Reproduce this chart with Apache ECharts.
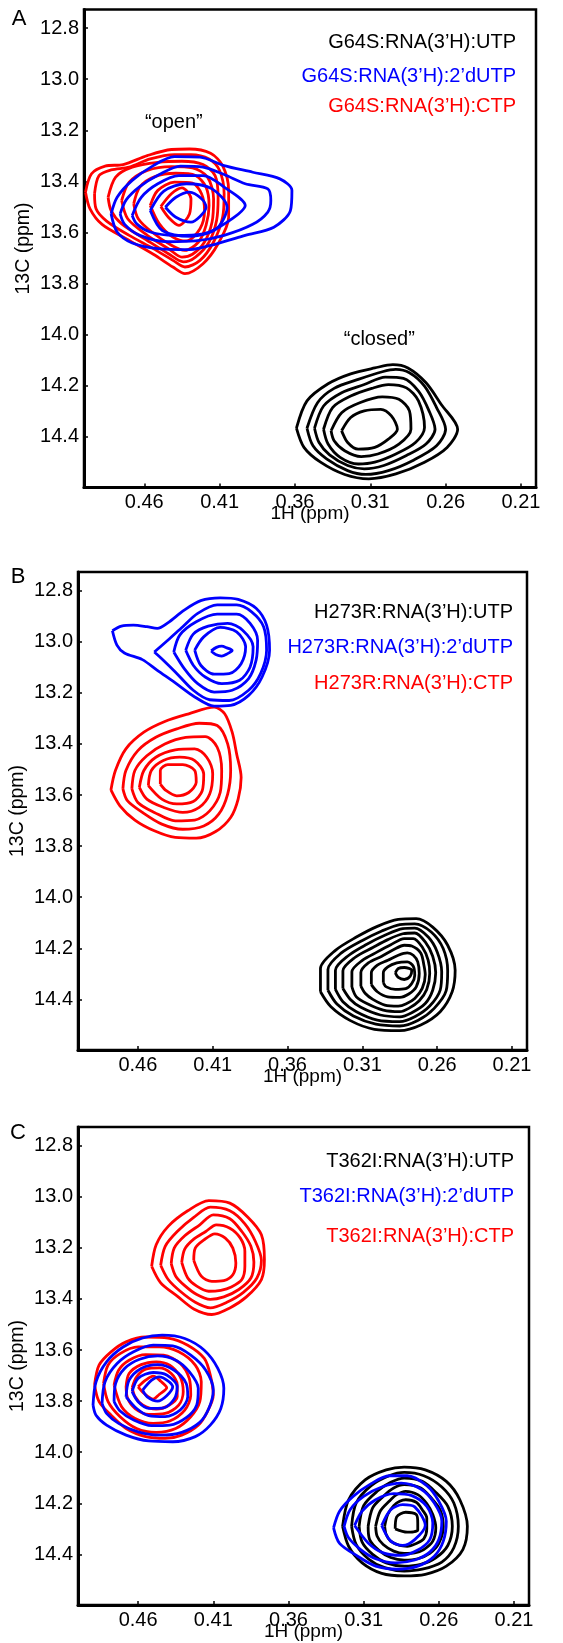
<!DOCTYPE html>
<html><head><meta charset="utf-8">
<script src="https://cdn.jsdelivr.net/npm/echarts@6.0.0/dist/echarts.min.js"></script>
<style>html,body{margin:0;padding:0;background:#fff}#c{width:563px;height:1643px}</style>
</head><body><div id="c"></div>
<script>
// ---------- axis values ----------
const xTicks = [0.46, 0.41, 0.36, 0.31, 0.26, 0.21];
const yTicks = [12.8, 13.0, 13.2, 13.4, 13.6, 13.8, 14.0, 14.2, 14.4];
const xRange = [0.2, 0.5];
const yRange = [12.727, 14.598];
const xName = '1H (ppm)';
const yName = '13C (ppm)';
const panelLetters = ['A', 'B', 'C'];

const legendA = ['G64S:RNA(3’H):UTP', 'G64S:RNA(3’H):2’dUTP', 'G64S:RNA(3’H):CTP'];
const legendB = ['H273R:RNA(3’H):UTP', 'H273R:RNA(3’H):2’dUTP', 'H273R:RNA(3’H):CTP'];
const legendC = ['T362I:RNA(3’H):UTP', 'T362I:RNA(3’H):2’dUTP', 'T362I:RNA(3’H):CTP'];

const notesA = [{text: '“open”', value: [0.4404, 13.1685]}, {text: '“closed”', value: [0.3040, 14.0195]}];

// ---------- contour lines (1H ppm, 13C ppm) ----------
// Panel A
const A_UTP = [
 [[0.359,14.366],[0.352,14.259],[0.338,14.192],[0.323,14.153],[0.307,14.130],[0.295,14.117],[0.285,14.130],[0.273,14.188],[0.263,14.272],[0.252,14.370],[0.259,14.441],[0.274,14.499],[0.293,14.545],[0.311,14.564],[0.327,14.547],[0.343,14.499],[0.354,14.441]],
 [[0.352,14.366],[0.345,14.266],[0.334,14.210],[0.318,14.175],[0.302,14.145],[0.293,14.136],[0.284,14.149],[0.274,14.201],[0.266,14.285],[0.260,14.370],[0.266,14.435],[0.281,14.490],[0.298,14.532],[0.313,14.547],[0.325,14.532],[0.339,14.486],[0.348,14.435]],
 [[0.347,14.366],[0.341,14.279],[0.329,14.227],[0.314,14.195],[0.300,14.166],[0.288,14.171],[0.278,14.221],[0.271,14.298],[0.267,14.370],[0.273,14.428],[0.286,14.473],[0.301,14.512],[0.314,14.525],[0.325,14.512],[0.337,14.470],[0.344,14.422]],
 [[0.341,14.370],[0.335,14.285],[0.323,14.240],[0.309,14.210],[0.298,14.195],[0.286,14.208],[0.278,14.259],[0.274,14.363],[0.280,14.422],[0.293,14.467],[0.307,14.499],[0.318,14.506],[0.330,14.480],[0.338,14.428]],
 [[0.336,14.376],[0.329,14.305],[0.317,14.266],[0.302,14.243],[0.291,14.253],[0.284,14.298],[0.283,14.370],[0.291,14.428],[0.305,14.467],[0.316,14.477],[0.327,14.454],[0.334,14.415]],
 [[0.329,14.376],[0.323,14.324],[0.314,14.298],[0.303,14.292],[0.296,14.318],[0.292,14.370],[0.298,14.409],[0.307,14.441],[0.318,14.448],[0.325,14.422]]
];
const A_dUTP = [
 [[0.482,13.527],[0.478,13.462],[0.468,13.396],[0.454,13.338],[0.440,13.303],[0.423,13.305],[0.407,13.338],[0.388,13.364],[0.370,13.390],[0.362,13.435],[0.363,13.514],[0.374,13.579],[0.393,13.611],[0.412,13.644],[0.430,13.667],[0.451,13.663],[0.468,13.641],[0.478,13.598]],
 [[0.476,13.527],[0.472,13.472],[0.463,13.420],[0.450,13.373],[0.436,13.340],[0.421,13.344],[0.407,13.373],[0.393,13.409],[0.378,13.429],[0.376,13.475],[0.378,13.520],[0.388,13.568],[0.407,13.611],[0.426,13.633],[0.444,13.636],[0.463,13.611],[0.473,13.568]],
 [[0.468,13.533],[0.462,13.462],[0.451,13.409],[0.437,13.377],[0.421,13.377],[0.407,13.422],[0.393,13.494],[0.405,13.559],[0.421,13.605],[0.440,13.611],[0.456,13.598],[0.465,13.566]],
 [[0.456,13.514],[0.447,13.438],[0.432,13.409],[0.415,13.429],[0.405,13.501],[0.412,13.585],[0.429,13.615],[0.448,13.592]],
 [[0.446,13.501],[0.439,13.462],[0.430,13.442],[0.422,13.468],[0.419,13.501],[0.423,13.537],[0.429,13.559],[0.439,13.540]]
];
const A_CTP = [
 [[0.499,13.442],[0.495,13.370],[0.486,13.340],[0.474,13.334],[0.458,13.299],[0.442,13.275],[0.430,13.273],[0.416,13.290],[0.408,13.338],[0.404,13.435],[0.404,13.540],[0.411,13.644],[0.421,13.722],[0.433,13.761],[0.441,13.735],[0.454,13.685],[0.472,13.624],[0.488,13.568],[0.496,13.507]],
 [[0.493,13.448],[0.490,13.377],[0.482,13.355],[0.470,13.344],[0.456,13.312],[0.440,13.295],[0.429,13.295],[0.417,13.312],[0.410,13.357],[0.407,13.448],[0.408,13.540],[0.414,13.637],[0.423,13.709],[0.433,13.735],[0.441,13.709],[0.454,13.663],[0.470,13.611],[0.485,13.555],[0.492,13.507]],
 [[0.484,13.462],[0.479,13.383],[0.468,13.344],[0.451,13.325],[0.435,13.321],[0.421,13.334],[0.413,13.377],[0.411,13.462],[0.412,13.553],[0.417,13.637],[0.426,13.696],[0.434,13.715],[0.444,13.683],[0.458,13.631],[0.475,13.566],[0.482,13.514]],
 [[0.475,13.475],[0.470,13.403],[0.458,13.357],[0.442,13.342],[0.428,13.347],[0.418,13.383],[0.414,13.468],[0.415,13.559],[0.420,13.637],[0.428,13.685],[0.435,13.696],[0.444,13.663],[0.458,13.611],[0.471,13.546]],
 [[0.467,13.488],[0.463,13.422],[0.453,13.381],[0.439,13.368],[0.426,13.377],[0.419,13.422],[0.417,13.494],[0.419,13.572],[0.424,13.637],[0.433,13.670],[0.442,13.650],[0.455,13.598],[0.464,13.546]],
 [[0.456,13.494],[0.451,13.435],[0.440,13.403],[0.428,13.407],[0.422,13.448],[0.420,13.514],[0.423,13.585],[0.432,13.633],[0.441,13.618],[0.450,13.566]],
 [[0.449,13.498],[0.442,13.448],[0.435,13.425],[0.429,13.468],[0.430,13.527],[0.437,13.572],[0.444,13.540]]
];

// Panel B
const B_UTP = [
 [[0.338,14.370],[0.338,14.279],[0.328,14.208],[0.314,14.156],[0.300,14.114],[0.286,14.087],[0.274,14.084],[0.263,14.117],[0.253,14.188],[0.248,14.286],[0.250,14.370],[0.258,14.448],[0.271,14.500],[0.285,14.522],[0.302,14.517],[0.318,14.483],[0.331,14.429]],
 [[0.333,14.364],[0.333,14.283],[0.324,14.218],[0.310,14.169],[0.297,14.132],[0.285,14.107],[0.275,14.104],[0.264,14.136],[0.256,14.201],[0.253,14.288],[0.254,14.366],[0.262,14.435],[0.273,14.483],[0.285,14.504],[0.301,14.497],[0.316,14.465],[0.327,14.418]],
 [[0.328,14.361],[0.328,14.286],[0.319,14.227],[0.307,14.184],[0.295,14.149],[0.283,14.123],[0.275,14.121],[0.266,14.156],[0.260,14.214],[0.257,14.292],[0.258,14.364],[0.265,14.426],[0.275,14.468],[0.285,14.487],[0.300,14.481],[0.314,14.448],[0.323,14.409]],
 [[0.323,14.357],[0.323,14.288],[0.315,14.236],[0.303,14.197],[0.293,14.166],[0.283,14.143],[0.275,14.140],[0.268,14.175],[0.263,14.231],[0.261,14.296],[0.263,14.364],[0.268,14.416],[0.277,14.452],[0.285,14.468],[0.298,14.461],[0.311,14.431],[0.318,14.400]],
 [[0.317,14.351],[0.317,14.292],[0.310,14.247],[0.300,14.214],[0.291,14.186],[0.282,14.162],[0.276,14.162],[0.270,14.195],[0.266,14.247],[0.265,14.299],[0.267,14.361],[0.272,14.405],[0.279,14.435],[0.285,14.448],[0.296,14.442],[0.307,14.416],[0.314,14.390]],
 [[0.311,14.348],[0.311,14.295],[0.306,14.257],[0.297,14.231],[0.289,14.205],[0.282,14.188],[0.277,14.191],[0.271,14.218],[0.269,14.262],[0.268,14.303],[0.270,14.357],[0.275,14.396],[0.281,14.418],[0.286,14.426],[0.295,14.422],[0.303,14.400],[0.308,14.377]],
 [[0.304,14.342],[0.304,14.296],[0.300,14.266],[0.293,14.247],[0.286,14.227],[0.280,14.218],[0.276,14.227],[0.273,14.253],[0.272,14.299],[0.274,14.351],[0.279,14.379],[0.285,14.392],[0.293,14.390],[0.300,14.370]],
 [[0.296,14.335],[0.296,14.296],[0.293,14.273],[0.287,14.257],[0.280,14.253],[0.276,14.270],[0.275,14.305],[0.277,14.338],[0.281,14.358],[0.288,14.361],[0.294,14.351]],
 [[0.288,14.296],[0.286,14.279],[0.282,14.275],[0.277,14.286],[0.278,14.309],[0.282,14.322],[0.286,14.314]]
];
const B_dUTP = [
 [[0.477,12.957],[0.474,13.013],[0.469,13.044],[0.457,13.070],[0.447,13.112],[0.435,13.161],[0.422,13.216],[0.409,13.252],[0.398,13.249],[0.386,13.210],[0.377,13.138],[0.372,13.033],[0.374,12.935],[0.381,12.869],[0.393,12.834],[0.405,12.828],[0.418,12.839],[0.429,12.876],[0.440,12.926],[0.447,12.948],[0.454,12.941],[0.463,12.935],[0.471,12.939]],
 [[0.449,13.040],[0.440,12.994],[0.430,12.941],[0.420,12.889],[0.407,12.856],[0.394,12.856],[0.384,12.883],[0.376,12.941],[0.374,13.033],[0.378,13.125],[0.386,13.190],[0.399,13.230],[0.412,13.227],[0.423,13.190],[0.435,13.118],[0.443,13.072]],
 [[0.436,13.040],[0.432,12.974],[0.421,12.922],[0.407,12.892],[0.394,12.892],[0.385,12.928],[0.380,12.994],[0.381,13.072],[0.386,13.144],[0.397,13.190],[0.409,13.197],[0.420,13.164],[0.429,13.105]],
 [[0.428,13.033],[0.423,12.970],[0.413,12.939],[0.400,12.928],[0.390,12.955],[0.383,13.020],[0.385,13.099],[0.392,13.151],[0.404,13.164],[0.415,13.138],[0.423,13.092]],
 [[0.422,13.033],[0.416,12.981],[0.405,12.944],[0.394,12.961],[0.388,13.020],[0.391,13.086],[0.399,13.125],[0.409,13.127],[0.418,13.092]],
 [[0.411,13.036],[0.4075,13.022],[0.404,13.017],[0.4005,13.024],[0.397,13.034],[0.4005,13.048],[0.404,13.056],[0.408,13.050]]
];
const B_CTP = [
 [[0.478,13.580],[0.475,13.504],[0.468,13.419],[0.456,13.354],[0.442,13.312],[0.426,13.282],[0.409,13.256],[0.402,13.282],[0.397,13.354],[0.394,13.439],[0.391,13.531],[0.393,13.616],[0.398,13.688],[0.408,13.743],[0.421,13.769],[0.435,13.766],[0.449,13.740],[0.462,13.698],[0.472,13.642]],
 [[0.470,13.576],[0.468,13.504],[0.460,13.426],[0.448,13.374],[0.434,13.341],[0.419,13.319],[0.407,13.328],[0.400,13.400],[0.398,13.504],[0.400,13.596],[0.406,13.675],[0.416,13.721],[0.430,13.734],[0.444,13.714],[0.457,13.668],[0.467,13.622]],
 [[0.464,13.576],[0.462,13.504],[0.454,13.446],[0.442,13.400],[0.428,13.374],[0.415,13.371],[0.407,13.413],[0.404,13.504],[0.405,13.590],[0.412,13.662],[0.422,13.698],[0.435,13.701],[0.449,13.668],[0.460,13.629]],
 [[0.459,13.570],[0.456,13.504],[0.448,13.452],[0.435,13.423],[0.422,13.419],[0.414,13.452],[0.410,13.518],[0.412,13.596],[0.419,13.648],[0.430,13.668],[0.443,13.648],[0.454,13.616]],
 [[0.453,13.563],[0.451,13.504],[0.443,13.465],[0.432,13.452],[0.422,13.465],[0.416,13.518],[0.417,13.583],[0.423,13.625],[0.434,13.635],[0.444,13.616]],
 [[0.445,13.557],[0.445,13.504],[0.440,13.481],[0.430,13.481],[0.422,13.504],[0.421,13.550],[0.426,13.590],[0.434,13.603],[0.441,13.583]]
];

// Panel C
const C_UTP = [
 [[0.324,14.290],[0.320,14.186],[0.309,14.108],[0.295,14.069],[0.283,14.058],[0.269,14.069],[0.255,14.114],[0.246,14.186],[0.241,14.290],[0.244,14.381],[0.255,14.446],[0.269,14.478],[0.283,14.484],[0.298,14.474],[0.311,14.433],[0.320,14.368]],
 [[0.318,14.290],[0.315,14.199],[0.305,14.131],[0.293,14.092],[0.283,14.079],[0.270,14.092],[0.258,14.136],[0.250,14.199],[0.247,14.290],[0.250,14.374],[0.258,14.430],[0.271,14.458],[0.283,14.465],[0.296,14.452],[0.307,14.417],[0.315,14.361]],
 [[0.313,14.290],[0.310,14.209],[0.301,14.153],[0.292,14.118],[0.283,14.101],[0.271,14.114],[0.262,14.157],[0.254,14.212],[0.251,14.290],[0.254,14.365],[0.262,14.413],[0.272,14.439],[0.283,14.446],[0.295,14.433],[0.304,14.400],[0.311,14.352]],
 [[0.307,14.290],[0.304,14.218],[0.297,14.173],[0.290,14.140],[0.283,14.127],[0.272,14.140],[0.265,14.179],[0.259,14.227],[0.257,14.292],[0.260,14.357],[0.266,14.396],[0.274,14.417],[0.283,14.422],[0.292,14.412],[0.300,14.383],[0.306,14.342]],
 [[0.302,14.290],[0.299,14.231],[0.293,14.192],[0.288,14.166],[0.282,14.153],[0.274,14.166],[0.268,14.201],[0.264,14.244],[0.262,14.296],[0.264,14.348],[0.270,14.381],[0.276,14.394],[0.283,14.396],[0.290,14.387],[0.297,14.361],[0.301,14.329]],
 [[0.296,14.290],[0.294,14.244],[0.290,14.209],[0.286,14.192],[0.282,14.186],[0.275,14.196],[0.271,14.225],[0.268,14.257],[0.268,14.300],[0.270,14.339],[0.275,14.357],[0.281,14.368],[0.286,14.365],[0.292,14.348],[0.295,14.322]],
 [[0.289,14.300],[0.288,14.253],[0.282,14.235],[0.275,14.244],[0.274,14.277],[0.274,14.305],[0.281,14.313]]
];
const C_dUTP = [
 // peak near 0.45 / 13.75
 [[0.490,13.815],[0.488,13.724],[0.481,13.646],[0.470,13.588],[0.457,13.553],[0.444,13.542],[0.429,13.555],[0.416,13.601],[0.407,13.672],[0.403,13.750],[0.405,13.829],[0.412,13.894],[0.422,13.939],[0.437,13.959],[0.453,13.956],[0.468,13.933],[0.481,13.894],[0.488,13.855]],
 [[0.484,13.809],[0.482,13.724],[0.474,13.653],[0.463,13.607],[0.450,13.581],[0.437,13.584],[0.425,13.620],[0.415,13.679],[0.410,13.757],[0.413,13.829],[0.419,13.883],[0.431,13.922],[0.445,13.933],[0.460,13.920],[0.473,13.887],[0.481,13.848]],
 [[0.476,13.802],[0.475,13.731],[0.469,13.672],[0.459,13.636],[0.447,13.623],[0.435,13.640],[0.426,13.685],[0.420,13.750],[0.421,13.815],[0.428,13.865],[0.439,13.894],[0.451,13.896],[0.463,13.874],[0.472,13.839]],
 [[0.468,13.783],[0.466,13.718],[0.458,13.672],[0.447,13.657],[0.436,13.679],[0.428,13.731],[0.427,13.783],[0.432,13.835],[0.442,13.861],[0.453,13.857],[0.461,13.829]],
 [[0.464,13.763],[0.460,13.711],[0.450,13.688],[0.441,13.698],[0.434,13.744],[0.436,13.792],[0.443,13.826],[0.453,13.828],[0.460,13.802]],
 [[0.457,13.757],[0.451,13.718],[0.446,13.705],[0.437,13.744],[0.441,13.779],[0.447,13.800],[0.454,13.783]],
 // peak near 0.28 / 14.28
 [[0.330,14.296],[0.326,14.231],[0.317,14.173],[0.305,14.123],[0.293,14.092],[0.281,14.092],[0.268,14.131],[0.260,14.192],[0.255,14.270],[0.257,14.348],[0.263,14.407],[0.274,14.446],[0.288,14.458],[0.302,14.446],[0.314,14.407],[0.326,14.357]],
 [[0.323,14.290],[0.319,14.225],[0.310,14.173],[0.298,14.136],[0.285,14.121],[0.272,14.144],[0.263,14.199],[0.258,14.270],[0.260,14.342],[0.266,14.391],[0.276,14.422],[0.289,14.433],[0.302,14.417],[0.312,14.381],[0.320,14.335]],
 [[0.316,14.287],[0.311,14.231],[0.302,14.186],[0.290,14.162],[0.278,14.170],[0.268,14.212],[0.264,14.277],[0.266,14.342],[0.274,14.383],[0.285,14.404],[0.297,14.394],[0.307,14.355]],
 [[0.298,14.287],[0.292,14.225],[0.284,14.205],[0.276,14.214],[0.269,14.287],[0.276,14.342],[0.284,14.365],[0.292,14.348]]
];
const C_CTP = [
 // peak near 0.41 / 13.23
 [[0.451,13.272],[0.448,13.188],[0.440,13.116],[0.427,13.055],[0.413,13.015],[0.399,13.025],[0.387,13.080],[0.378,13.149],[0.376,13.246],[0.378,13.324],[0.388,13.392],[0.399,13.435],[0.411,13.461],[0.423,13.439],[0.434,13.389],[0.445,13.337]],
 [[0.445,13.268],[0.442,13.194],[0.434,13.136],[0.423,13.081],[0.412,13.041],[0.399,13.055],[0.389,13.106],[0.382,13.175],[0.378,13.249],[0.381,13.318],[0.390,13.374],[0.401,13.413],[0.412,13.435],[0.422,13.413],[0.432,13.370],[0.440,13.324]],
 [[0.438,13.262],[0.436,13.201],[0.429,13.153],[0.419,13.110],[0.410,13.071],[0.399,13.086],[0.391,13.136],[0.385,13.194],[0.383,13.255],[0.385,13.318],[0.393,13.363],[0.403,13.392],[0.412,13.402],[0.421,13.383],[0.429,13.348],[0.435,13.311]],
 [[0.431,13.257],[0.429,13.205],[0.423,13.166],[0.415,13.136],[0.408,13.110],[0.399,13.123],[0.392,13.162],[0.389,13.214],[0.389,13.272],[0.391,13.324],[0.398,13.353],[0.405,13.366],[0.413,13.370],[0.421,13.350],[0.427,13.318]],
 [[0.423,13.249],[0.422,13.201],[0.416,13.168],[0.409,13.145],[0.402,13.162],[0.397,13.201],[0.395,13.259],[0.397,13.305],[0.403,13.328],[0.411,13.331],[0.418,13.311]],
 // peak near 0.45 / 13.74
 [[0.489,13.737],[0.486,13.659],[0.478,13.607],[0.468,13.568],[0.455,13.549],[0.440,13.553],[0.427,13.581],[0.416,13.633],[0.412,13.698],[0.410,13.776],[0.414,13.842],[0.420,13.894],[0.431,13.933],[0.442,13.946],[0.455,13.939],[0.468,13.907],[0.478,13.855],[0.486,13.802]],
 [[0.483,13.731],[0.480,13.659],[0.472,13.614],[0.460,13.588],[0.446,13.588],[0.433,13.607],[0.422,13.659],[0.418,13.724],[0.419,13.802],[0.425,13.861],[0.435,13.907],[0.448,13.922],[0.461,13.907],[0.472,13.861],[0.480,13.802]],
 [[0.476,13.737],[0.473,13.679],[0.466,13.640],[0.455,13.618],[0.443,13.620],[0.432,13.653],[0.426,13.711],[0.425,13.776],[0.429,13.835],[0.439,13.878],[0.450,13.887],[0.462,13.868],[0.471,13.822]],
 [[0.468,13.744],[0.466,13.692],[0.458,13.657],[0.448,13.646],[0.439,13.659],[0.432,13.705],[0.430,13.763],[0.433,13.816],[0.442,13.848],[0.453,13.852],[0.462,13.829],[0.467,13.789]],
 [[0.464,13.747],[0.461,13.705],[0.455,13.675],[0.446,13.670],[0.438,13.692],[0.434,13.735],[0.434,13.783],[0.440,13.818],[0.448,13.831],[0.457,13.815],[0.462,13.783]],
 [[0.460,13.744],[0.455,13.718],[0.450,13.702],[0.445,13.722],[0.441,13.748],[0.446,13.774],[0.450,13.792],[0.456,13.770]]
];

// ---------- layout / style (not data) ----------
const FONT = "'Liberation Sans', Arial, Helvetica, sans-serif";
const COL = {utp: '#000000', dutp: '#0000ff', ctp: '#ff0000'};
const panels = [
  {grid: {left: 84, top: 9.5, width: 452, height: 478}, letterXY: [19, 19], legend: legendA, legendX: 516, legendY: [42.7, 76, 106],
   utp: A_UTP, dutp: A_dUTP, ctp: A_CTP, notes: notesA},
  {grid: {left: 74, top: 572, width: 453, height: 478}, letterXY: [18, 576.5], legend: legendB, legendX: 513, legendY: [612.7, 647.3, 683.3],
   utp: B_UTP, dutp: B_dUTP, ctp: B_CTP, notes: []},
  {grid: {left: 77, top: 1127, width: 452, height: 478}, letterXY: [18, 1133], legend: legendC, legendX: 514, legendY: [1161.7, 1196, 1236],
   utp: C_UTP, dutp: C_dUTP, ctp: C_CTP, notes: []}
];

const grids = [], xAxes = [], yAxes = [], series = [], graphics = [];
panels.forEach((p, i) => {
  grids.push(Object.assign({show: true, borderColor: '#000', borderWidth: 2.5, backgroundColor: 'transparent', containLabel: false}, p.grid));
  xAxes.push({
    type: 'value', gridIndex: i, min: xRange[0], max: xRange[1], inverse: true,
    name: xName, nameLocation: 'middle', nameGap: 17, nameMoveOverlap: false,
    nameTextStyle: {fontSize: 19, color: '#000', fontFamily: FONT},
    axisLine: {show: true, onZero: false, lineStyle: {color: '#000', width: 3}},
    axisTick: {show: true, inside: true, length: 4, lineStyle: {color: '#000', width: 1.5}, customValues: xTicks},
    axisLabel: {show: true, margin: 5, customValues: xTicks, formatter: v => v.toFixed(2), fontSize: 20, color: '#000', fontFamily: FONT},
    splitLine: {show: false}
  });
  yAxes.push({
    type: 'value', gridIndex: i, min: yRange[0], max: yRange[1], inverse: true,
    name: yName, nameLocation: 'middle', nameGap: 50, nameMoveOverlap: false,
    nameTextStyle: {fontSize: 19.5, color: '#000', fontFamily: FONT},
    axisLine: {show: true, onZero: false, lineStyle: {color: '#000', width: 3}},
    axisTick: {show: true, inside: true, length: 4, lineStyle: {color: '#000', width: 1.5}, customValues: yTicks},
    axisLabel: {show: true, margin: 5, customValues: yTicks, formatter: v => v.toFixed(1), fontSize: 20, color: '#000', fontFamily: FONT},
    splitLine: {show: false}
  });
  const add = (list, color) => list.forEach(c => series.push({
    type: 'line', xAxisIndex: i, yAxisIndex: i, data: c.concat([c[0]]),
    showSymbol: false, symbol: 'none', smooth: 0.3, silent: true,
    lineStyle: {color: color, width: 2.8}
  }));
  add(p.utp, COL.utp);
  add(p.ctp, COL.ctp);
  add(p.dutp, COL.dutp);
  graphics.push({type: 'text', x: p.letterXY[0], y: p.letterXY[1],
    style: {text: panelLetters[i], font: '22px ' + FONT, fill: '#000', align: 'center', verticalAlign: 'middle'}});
  const cols = [COL.utp, COL.dutp, COL.ctp];
  p.legend.forEach((t, k) => graphics.push({type: 'text', x: p.legendX, y: p.legendY[k],
    style: {text: t, font: '20px ' + FONT, fill: cols[k], align: 'right', verticalAlign: 'middle'}}));
});

const chart = echarts.init(document.getElementById('c'), null, {renderer: 'canvas'});
chart.setOption({
  animation: false,
  backgroundColor: '#ffffff',
  grid: grids, xAxis: xAxes, yAxis: yAxes, series: series, graphic: graphics
});
// annotation texts placed at data coordinates through the chart's own scales
panels.forEach((p, i) => p.notes.forEach(n => {
  const pt = chart.convertToPixel({gridIndex: i}, n.value);
  graphics.push({type: 'text', x: pt[0], y: pt[1],
    style: {text: n.text, font: '20px ' + FONT, fill: '#000', align: 'center', verticalAlign: 'middle'}});
}));
chart.setOption({graphic: graphics});
</script></body></html>
